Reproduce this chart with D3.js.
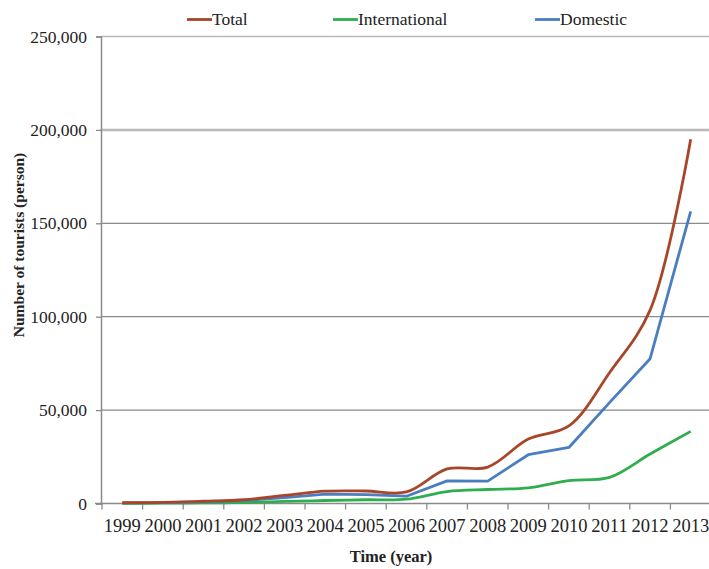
<!DOCTYPE html>
<html><head><meta charset="utf-8">
<script src="https://cdn.jsdelivr.net/npm/d3@7"></script>
<style>body{margin:0;background:#fff}svg{display:block}</style>
</head><body>
<svg id="c" width="709" height="569"></svg>
<script>
const years = ["1999","2000","2001","2002","2003","2004","2005","2006","2007","2008","2009","2010","2011","2012","2013"];
const total = [400,600,1200,2000,4300,6600,6700,6200,18500,19500,34500,41500,70000,103500,195000];
const international = [100,150,300,500,1100,1600,2000,2300,6400,7500,8400,12300,14000,26500,38600];
const domestic = [300,450,900,1500,3200,5000,4700,3900,12100,12000,26100,30000,54000,77500,156400];
const yTicks = [0,50000,100000,150000,200000,250000];
const seriesNames = ["Total","International","Domestic"];
const colors = {Total:"#A8462A", International:"#2EAE4E", Domestic:"#4B7EC0"};

const svg = d3.select("#c");
const font = "'Liberation Serif','Times New Roman',serif";
const x = d3.scaleBand().domain(years).range([102, 711]);
const y = d3.scaleLinear().domain([0,250000]).range([503.5, 36.5]);

// gridlines
svg.append("g").selectAll("line").data(yTicks.filter(d=>d>0)).join("line")
  .attr("x1",101).attr("x2",712).attr("y1",d=>y(d)).attr("y2",d=>y(d))
  .attr("stroke",d=>(d===200000||d===250000)?"#b8b8b8":"#8a8a8a")
  .attr("stroke-width",d=>(d===200000)?2.5:1.3);

// y axis
const ya = svg.append("g").attr("transform","translate(101,0)")
  .call(d3.axisLeft(y).tickValues(yTicks).tickFormat(d3.format(",")).tickSize(5).tickPadding(9));
ya.select(".domain").attr("stroke","#8a8a8a").attr("stroke-width",1.5);
ya.selectAll(".tick line").attr("stroke","#8a8a8a").attr("stroke-width",1.3);
ya.selectAll("text").attr("font-family",font).attr("font-size",17.5).attr("fill","#222");

// x axis
const xa = svg.append("g").attr("transform","translate(0,503.5)")
  .call(d3.axisBottom(x).tickSize(0).tickPadding(15));
xa.select(".domain").remove();
xa.append("line").attr("x1",95).attr("x2",712).attr("stroke","#8a8a8a").attr("stroke-width",1.5);
xa.selectAll(".bt").data(d3.range(years.length+1)).join("line")
  .attr("x1",i=>102+i*x.step()).attr("x2",i=>102+i*x.step()).attr("y1",0).attr("y2",6)
  .attr("stroke","#8a8a8a").attr("stroke-width",1.3);
xa.selectAll("text").attr("font-family",font).attr("font-size",18.5).attr("fill","#222");

// axis titles
svg.append("text").attr("x",391).attr("y",562).attr("text-anchor","middle")
  .attr("font-family",font).attr("font-size",16.5).attr("font-weight","bold").attr("fill","#222").text("Time (year)");
svg.append("text").attr("transform","translate(24,245) rotate(-90)").attr("text-anchor","middle")
  .attr("font-family",font).attr("font-size",15.5).attr("font-weight","bold").attr("fill","#222").text("Number of tourists (person)");

// lines
const data = {Total:total, International:international, Domestic:domestic};
const curves = {Total:d3.curveCatmullRom.alpha(0.5), International:d3.curveCatmullRom.alpha(0.5), Domestic:d3.curveLinear};
["International","Domestic","Total"].forEach(n=>{
  const line = d3.line().x((d,i)=>x(years[i])+x.bandwidth()/2).y(d=>y(d)).curve(curves[n]);
  svg.append("path").attr("d",line(data[n])).attr("fill","none")
    .attr("stroke",colors[n]).attr("stroke-width",2.8).attr("stroke-linejoin","round");
});

// legend
const legX = {Total:187, International:333, Domestic:535};
seriesNames.forEach(n=>{
  const g = svg.append("g");
  g.append("line").attr("x1",legX[n]).attr("x2",legX[n]+25).attr("y1",19.5).attr("y2",19.5)
    .attr("stroke",colors[n]).attr("stroke-width",2.8);
  g.append("text").attr("x",legX[n]+25).attr("y",25).attr("font-family",font).attr("font-size",17.5)
    .attr("fill","#222").text(n);
});
</script>
</body></html>
